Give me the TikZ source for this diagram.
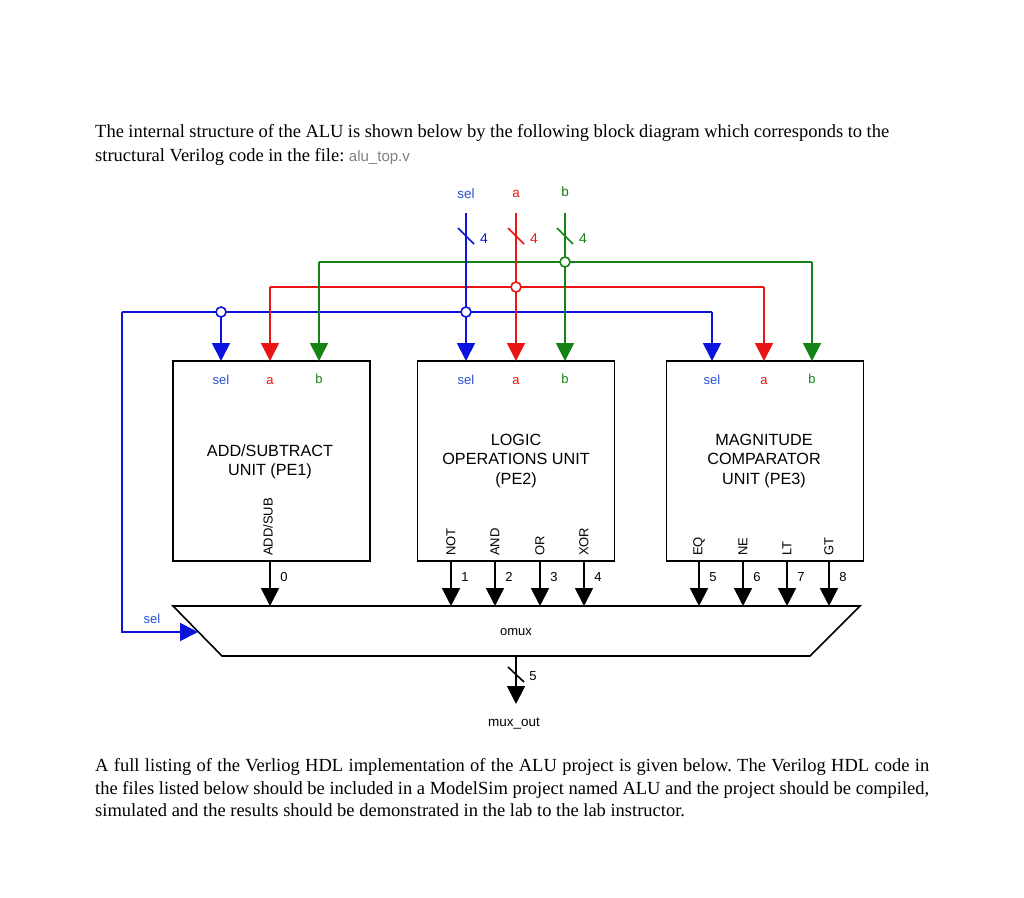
\documentclass[tikz,border=0pt]{standalone}
\usepackage{fontspec}
\setmainfont{Liberation Serif}
\setsansfont{Liberation Sans}
\usetikzlibrary{arrows.meta}
\definecolor{wblue}{RGB}{10,20,220}
\definecolor{wred}{RGB}{235,20,20}
\definecolor{wgreen}{RGB}{20,130,20}
\definecolor{lblue}{RGB}{40,80,210}
\frenchspacing
\tikzset{
  pe/.style={draw=black, line width=1.6pt, minimum width=197pt, minimum height=200pt, inner sep=0pt},
  wire/.style={line width=1.8pt},
  arr/.style={wire, -{Triangle[length=18pt,width=18pt]}},
  junc/.style={circle, draw, line width=1.6pt, fill=white, minimum size=10pt, inner sep=0pt},
  pin/.style={font=\sffamily\fontsize{13}{13}\selectfont, inner sep=0pt},
  title/.style={font=\sffamily\fontsize{16.2}{19.5}\selectfont, align=center, inner sep=0pt},
  rot/.style={font=\sffamily\fontsize{13}{13}\selectfont, rotate=90, anchor=west, inner sep=0pt},
  num/.style={font=\sffamily\fontsize{13}{13}\selectfont, inner sep=0pt},
  body/.style={font=\fontsize{18.5}{22}\selectfont, anchor=base west, inner sep=0pt},
  slash/.style={line width=1.6pt}
}
\begin{document}
\begin{tikzpicture}[x=1pt,y=-1pt]
\useasboundingbox[fill=white] (0,0) rectangle (1024,897);

% text above
\node[body] (t1) at (95,137) {\hbox to 794pt{The internal structure of the ALU is shown below by the following block diagram which corresponds to the}};
\node[body] (t2) at (95,161) {structural Verilog code in the file: {\sffamily\fontsize{15}{15}\selectfont\color{gray}alu\_top.v}};

% boxes
\node[pe] (pe1) at (271.5,461) {};
\node[pe] (pe2) at (516,461) {};
\node[pe] (pe3) at (765,461) {};

\node[title] (pe1t) at (270,462) {ADD/SUBTRACT\\UNIT (PE1)};
\node[title] (pe2t) at (516,461) {LOGIC\\OPERATIONS UNIT\\(PE2)};
\node[title] (pe3t) at (764,461) {MAGNITUDE\\COMPARATOR\\UNIT (PE3)};

% pin labels
\foreach \x/\n in {221/1,466/2,712/3}{\node[pin, text=lblue] (s\n) at (\x,380) {sel};}
\foreach \x/\n in {270/1,516/2,764/3}{\node[pin, text=wred] (a\n) at (\x,381) {a};}
\foreach \x/\n in {319/1,565/2,812/3}{\node[pin, text=wgreen] (b\n) at (\x,379) {b};}

\node[rot] (addsub) at (268,556) {ADD/SUB};
\node[rot] (lnot) at (451,556) {NOT};
\node[rot] (land) at (495,556) {AND};
\node[rot] (lor) at (540,556) {OR};
\node[rot] (lxor) at (584,556) {XOR};
\node[rot] (ceq) at (699,556) {EQ};
\node[rot] (cne) at (743,556) {NE};
\node[rot] (clt) at (787,556) {LT};
\node[rot] (cgt) at (829,556) {GT};

% mux
\coordinate (m1) at (173,606);
\coordinate (m2) at (860,606);
\coordinate (m3) at (810,656);
\coordinate (m4) at (222,656);
\draw[line width=1.6pt] (m1) -- (m2) -- (m3) -- (m4) -- cycle;
\node[font=\sffamily\fontsize{13}{13}\selectfont] (omux) at (516,632) {omux};

% top inputs
\node[font=\sffamily\fontsize{13.5}{13.5}\selectfont, text=lblue] (insel) at (466,194) {sel};
\node[font=\sffamily\fontsize{13.5}{13.5}\selectfont, text=wred] (ina) at (516,194) {a};
\node[font=\sffamily\fontsize{13.5}{13.5}\selectfont, text=wgreen] (inb) at (565,192) {b};
\coordinate (selt) at (466,213);
\coordinate (at) at (516,213);
\coordinate (bt) at (565,213);

% buses
\coordinate (gL) at (319,262); \coordinate (gR) at (812,262);
\coordinate (rL) at (270,287); \coordinate (rR) at (764,287);
\coordinate (bL) at (122,312); \coordinate (bR) at (712,312);
\coordinate (bD) at (122,632); \coordinate (mx) at (198,632);

\draw[wire, wgreen] (gL) -- (gR);
\draw[wire, wred] (rL) -- (rR);
\draw[wire, wblue] (bL) -- (bR);

% arrows into PE1
\draw[arr, wblue] (221,312) -- (221,361);
\draw[arr, wred] (rL) -- (270,361);
\draw[arr, wgreen] (gL) -- (319,361);
% PE2
\draw[arr, wblue] (selt) -- (466,361);
\draw[arr, wred] (at) -- (516,361);
\draw[arr, wgreen] (bt) -- (565,361);
% PE3
\draw[arr, wblue] (bR) -- (712,361);
\draw[arr, wred] (rR) -- (764,361);
\draw[arr, wgreen] (gR) -- (812,361);
% sel into mux
\draw[arr, wblue] (bL) -- (bD) -- (mx);
\node[pin, text=lblue] (msel) at (152,619) {sel};

% junctions
\node[junc, draw=wgreen] (j1) at (565,262) {};
\node[junc, draw=wred] (j2) at (516,287) {};
\node[junc, draw=wblue] (j3) at (221,312) {};
\node[junc, draw=wblue] (j4) at (466,312) {};

% bus slashes
\draw[slash, wblue] (458,228) -- (474,244);
\draw[slash, wred] (508,228) -- (524,244);
\draw[slash, wgreen] (557,228) -- (573,244);
\node[num, text=wblue, font=\sffamily\fontsize{14}{14}\selectfont] (n4a) at (484,239) {4};
\node[num, text=wred, font=\sffamily\fontsize{14}{14}\selectfont] (n4b) at (534,239) {4};
\node[num, text=wgreen, font=\sffamily\fontsize{14}{14}\selectfont] (n4c) at (583,239) {4};

% outputs
\foreach \x/\l in {270/0,451/1,495/2,540/3,584/4,699/5,743/6,787/7,829/8}{
  \draw[arr, black] (\x,561) -- (\x,606);
  \node[num] (o\l) at (\x+14,577) {\l};
}

% mux output
\coordinate (mo) at (516,656);
\coordinate (mt) at (516,704);
\draw[arr, black] (mo) -- (mt);
\draw[slash] (508,667) -- (524,682);
\node[num] (n5) at (533,676) {5};
\node[font=\sffamily\fontsize{13.5}{13.5}\selectfont, inner sep=0pt] (muxout) at (514,723) {mux\_out};

% text below
\node[body] (u1) at (95,771) {\hbox to 834pt{A full listing of the Verliog HDL implementation of the ALU project is given below. The Verilog HDL code in}};
\node[body] (u2) at (95,794) {\hbox to 834pt{the files listed below should be included in a ModelSim project named ALU and the project should be compiled,}};
\node[body] (u3) at (95,816) {simulated and the results should be demonstrated in the lab to the lab instructor.};
\end{tikzpicture}
\end{document}
